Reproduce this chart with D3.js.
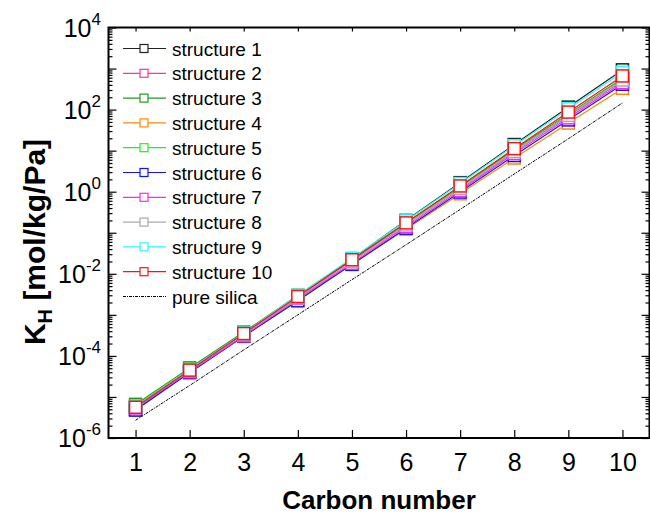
<!DOCTYPE html>
<html>
<head>
<meta charset="utf-8">
<script src="https://cdn.jsdelivr.net/npm/d3@7"></script>
<style>
  body { margin: 0; background: #fff; }
  svg text { font-family: Arial, "Liberation Sans", sans-serif; fill: #000; }
</style>
</head>
<body>
<div id="chart"></div>
<script>
// values (K_H in mol/kg/Pa)
const carbon = [1, 2, 3, 4, 5, 6, 7, 8, 9, 10];
const structure1  = [4.9e-6, 4.1e-5, 3.4e-4, 2.9e-3, 2.3e-2, 0.200, 1.66, 14.1, 115, 930];
const structure2  = [5.9e-6, 4.5e-5, 3.4e-4, 2.6e-3, 2.0e-2, 0.155, 1.17, 9.3, 69, 500];
const structure3  = [6.6e-6, 5.1e-5, 3.8e-4, 3.0e-3, 2.2e-2, 0.174, 1.32, 10.5, 78, 575];
const structure4  = [5.1e-6, 4.0e-5, 3.0e-4, 2.3e-3, 1.7e-2, 0.123, 0.89, 6.6, 47, 330];
const structure5  = [6.0e-6, 4.7e-5, 3.5e-4, 2.8e-3, 2.1e-2, 0.166, 1.26, 10.0, 74, 550];
const structure6  = [4.8e-6, 3.9e-5, 3.0e-4, 2.2e-3, 1.7e-2, 0.129, 0.98, 7.6, 56, 415];
const structure7  = [5.4e-6, 4.1e-5, 3.1e-4, 2.5e-3, 1.8e-2, 0.141, 1.07, 8.5, 63, 455];
const structure8  = [5.6e-6, 4.4e-5, 3.3e-4, 2.6e-3, 2.0e-2, 0.155, 1.20, 9.5, 72, 525];
const structure9  = [5.6e-6, 4.6e-5, 3.6e-4, 3.0e-3, 2.4e-2, 0.195, 1.58, 13.2, 105, 810];
const structure10 = [5.6e-6, 4.5e-5, 3.5e-4, 2.8e-3, 2.2e-2, 0.174, 1.38, 11.2, 87, 660];
const pureSilica  = [2.7e-6, 1.9e-5, 1.4e-4, 1.0e-3, 7.2e-3, 5.1e-2, 0.37, 2.7, 19.5, 145];

const seriesNames = ["structure 1", "structure 2", "structure 3", "structure 4", "structure 5",
  "structure 6", "structure 7", "structure 8", "structure 9", "structure 10"];
const seriesValues = [structure1, structure2, structure3, structure4, structure5,
  structure6, structure7, structure8, structure9, structure10];
const colors = ["#222222", "#ff3399", "#229922", "#ff8800", "#22ee22",
  "#1111ff", "#ff22ff", "#aaaaaa", "#22ffff", "#ff1111"];
const yLabelExps = [-6, -4, -2, 0, 2, 4];

const W = 650, H = 514;
const pLeft = 108.5, pRight = 649.5, pTop = 27.5, pBottom = 438;

const svg = d3.select("#chart").append("svg")
    .attr("width", W)
    .attr("height", H);

const x = d3.scaleLinear().domain([0.5, 10.5]).range([pLeft, pRight]);
const y = d3.scaleLog().domain([1e-6, 1e4]).range([pBottom, pTop]);

// minor / major ticks on the log axis
const decades = d3.range(-6, 5).map(e => Math.pow(10, e));
const minors = [];
d3.range(-6, 4).forEach(e => {
  for (let m = 2; m <= 9; m++) minors.push(m * Math.pow(10, e));
});

// bottom axis
svg.append("g")
    .attr("transform", `translate(0,${pBottom})`)
    .call(d3.axisBottom(x).tickValues(carbon).tickSize(-8).tickPadding(15))
    .call(g => g.select(".domain").remove())
    .call(g => g.selectAll("text").style("font-size", "25px"));

// top axis ticks
svg.append("g")
    .attr("transform", `translate(0,${pTop})`)
    .call(d3.axisTop(x).tickValues(carbon).tickSize(-4).tickFormat(""))
    .call(g => g.select(".domain").remove());

// left axis
svg.append("g")
    .attr("transform", `translate(${pLeft},0)`)
    .call(d3.axisLeft(y).tickValues(decades).tickSize(-8).tickFormat(""))
    .call(g => g.select(".domain").remove());
svg.append("g")
    .attr("transform", `translate(${pLeft},0)`)
    .call(d3.axisLeft(y).tickValues(minors).tickSize(-4).tickFormat(""))
    .call(g => g.select(".domain").remove());

// right axis
svg.append("g")
    .attr("transform", `translate(${pRight},0)`)
    .call(d3.axisRight(y).tickValues(decades).tickSize(-8).tickFormat(""))
    .call(g => g.select(".domain").remove());
svg.append("g")
    .attr("transform", `translate(${pRight},0)`)
    .call(d3.axisRight(y).tickValues(minors).tickSize(-4).tickFormat(""))
    .call(g => g.select(".domain").remove());

svg.selectAll(".tick line").attr("stroke", "#000").attr("stroke-width", 1.2);

// y tick labels with superscripts
const ylab = svg.append("g").selectAll("text")
  .data(yLabelExps)
  .enter().append("text")
    .attr("x", 101)
    .attr("y", d => y(Math.pow(10, d)) + 9)
    .attr("text-anchor", "end")
    .style("font-size", "25px");
ylab.append("tspan").text("10");
ylab.append("tspan").attr("dy", -12).style("font-size", "17px").text(d => d);

// frame
svg.append("rect")
    .attr("x", pLeft).attr("y", pTop)
    .attr("width", pRight - pLeft).attr("height", pBottom - pTop)
    .attr("fill", "none").attr("stroke", "#000").attr("stroke-width", 2);

// pure silica line
svg.append("path")
    .datum(pureSilica)
    .attr("fill", "none")
    .attr("stroke", "#000")
    .attr("stroke-width", 1)
    .attr("stroke-dasharray", "3,1,1,1")
    .attr("d", d3.line().x((d, i) => x(carbon[i])).y(d => y(d)));

// structures: line segments with gaps around symbols, then hollow squares
const gap = 8, sym = 12;
seriesValues.forEach((vals, s) => {
  const g = svg.append("g");
  const pts = vals.map((v, i) => [x(carbon[i]), y(v)]);
  const segs = d3.pairs(pts).map(([a, b]) => {
    const dx = b[0] - a[0], dy = b[1] - a[1], L = Math.hypot(dx, dy);
    const ux = dx / L, uy = dy / L;
    return [a[0] + ux * gap, a[1] + uy * gap, b[0] - ux * gap, b[1] - uy * gap];
  });
  g.selectAll("line").data(segs).enter().append("line")
      .attr("x1", d => d[0]).attr("y1", d => d[1])
      .attr("x2", d => d[2]).attr("y2", d => d[3])
      .attr("stroke", colors[s]).attr("stroke-width", 1.2);
  g.selectAll("rect").data(vals).enter().append("rect")
      .attr("x", (d, i) => x(carbon[i]) - sym / 2)
      .attr("y", d => y(d) - sym / 2)
      .attr("width", sym).attr("height", sym)
      .attr("fill", "#fff")
      .attr("stroke", colors[s]).attr("stroke-width", 1.5);
});

// legend
const legY0 = 48.5, legStep = 24.8;
const leg = svg.append("g");
seriesNames.forEach((name, i) => {
  const ly = legY0 + i * legStep;
  leg.append("line").attr("x1", 123).attr("x2", 166).attr("y1", ly).attr("y2", ly)
      .attr("stroke", colors[i]).attr("stroke-width", 1.2);
  leg.append("rect").attr("x", 140).attr("y", ly - 4).attr("width", 8).attr("height", 8)
      .attr("fill", "#fff").attr("stroke", colors[i]).attr("stroke-width", 1.2);
  leg.append("text").attr("x", 172).attr("y", ly + 7).style("font-size", "19px").text(name);
});
const lyS = legY0 + 10 * legStep;
leg.append("line").attr("x1", 123).attr("x2", 166).attr("y1", lyS).attr("y2", lyS)
    .attr("stroke", "#000").attr("stroke-width", 1).attr("stroke-dasharray", "3,1,1,1");
leg.append("text").attr("x", 172).attr("y", lyS + 7).style("font-size", "19px").text("pure silica");

// axis titles
svg.append("text")
    .attr("x", 379).attr("y", 509)
    .attr("text-anchor", "middle")
    .style("font-size", "26px").style("font-weight", "bold")
    .text("Carbon number");

const yt = svg.append("text")
    .attr("transform", "translate(45,242) rotate(-90)")
    .attr("text-anchor", "middle")
    .style("font-size", "30px").style("font-weight", "bold");
yt.append("tspan").text("K");
yt.append("tspan").attr("dy", 7).style("font-size", "20px").text("H");
yt.append("tspan").attr("dy", -7).text(" [mol/kg/Pa]");
</script>
</body>
</html>
